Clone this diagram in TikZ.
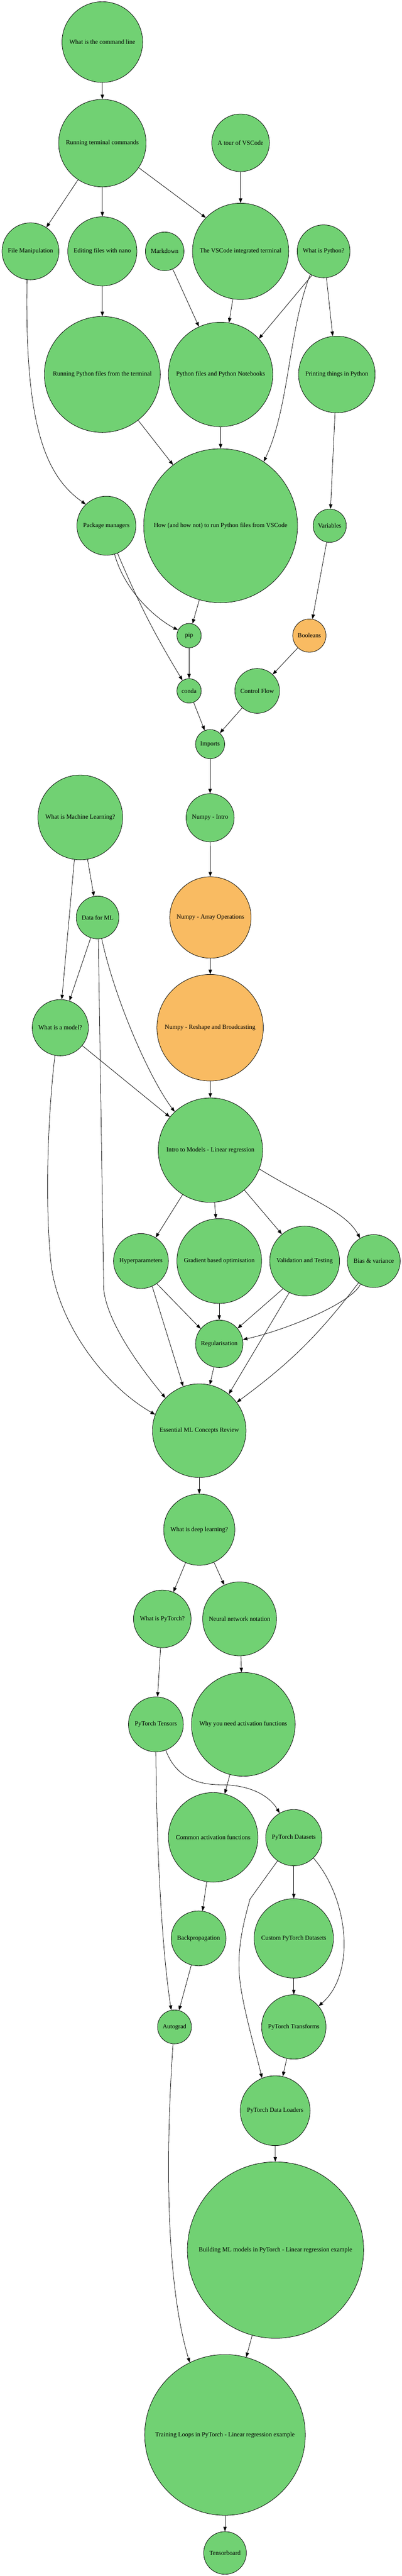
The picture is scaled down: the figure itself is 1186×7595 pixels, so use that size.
\documentclass[tikz,border=0pt]{standalone}
\usepackage{fontspec}
\setmainfont{Liberation Serif}
\usetikzlibrary{arrows.meta}
\definecolor{topicgreen}{RGB}{113,209,115}
\definecolor{topicorange}{RGB}{249,187,98}
\tikzset{
  topic/.style={circle,draw=black,line width=1.2pt,fill=topicgreen,inner sep=0pt,
    font=\fontsize{18.5pt}{22pt}\selectfont},
  hard/.style={topic,fill=topicorange},
  edge/.style={draw=black,line width=1.2pt,-{Triangle[length=13.5pt,width=10pt]}}
}
\begin{document}
\begin{tikzpicture}[x=1pt,y=1pt]
\useasboundingbox (0,0) rectangle (1186,-7595);
% ---- nodes ----
\node[topic,minimum size=238pt] (cmd) at (302,-124) {What is the command line};
\node[topic,minimum size=258pt] (run) at (302,-422) {Running terminal commands};
\node[topic,minimum size=170pt] (tour) at (710,-421) {A tour of VSCode};
\node[topic,minimum size=168pt] (fileman) at (90,-741) {File Manipulation};
\node[topic,minimum size=204pt] (nano) at (302,-741) {Editing files with nano};
\node[topic,minimum size=114pt] (md) at (486,-741) {Markdown};
\node[topic,minimum size=284pt] (vsterm) at (710,-741) {The VSCode integrated terminal};
\node[topic,minimum size=156pt] (whatpy) at (955,-741) {What is Python?};
\node[topic,minimum size=342pt] (runpy) at (302,-1104) {Running Python files from the terminal};
\node[topic,minimum size=308pt] (pyfiles) at (651,-1104) {Python files and Python Notebooks};
\node[topic,minimum size=226pt] (print) at (994,-1104) {Printing things in Python};
\node[topic,minimum size=174pt] (pkg) at (314,-1550) {Package managers};
\node[topic,minimum size=454pt] (howto) at (651,-1550) {How (and how not) to run Python files from VSCode};
\node[topic,minimum size=98pt] (vars) at (973,-1550) {Variables};
\node[topic,minimum size=72pt] (pip) at (558,-1874) {pip};
\node[hard,minimum size=98pt] (bool) at (913,-1874) {Booleans};
\node[topic,minimum size=72pt] (conda) at (558,-2037) {conda};
\node[topic,minimum size=132pt] (ctrl) at (759,-2037) {Control Flow};
\node[topic,minimum size=86pt] (imports) at (620,-2194) {Imports};
\node[topic,minimum size=142pt] (npintro) at (620,-2411) {Numpy - Intro};
\node[topic,minimum size=250pt] (whatml) at (237,-2410) {What is Machine Learning?};
\node[topic,minimum size=126pt] (data) at (288,-2705) {Data for ML};
\node[hard,minimum size=240pt] (nparr) at (621,-2705) {Numpy - Array Operations};
\node[topic,minimum size=166pt] (model) at (178,-3030) {What is a model?};
\node[hard,minimum size=314pt] (npresh) at (620,-3030) {Numpy - Reshape and Broadcasting};
\node[topic,minimum size=308pt] (intro) at (621,-3391) {Intro to Models - Linear regression};
\node[topic,minimum size=162pt] (hyper) at (416,-3718) {Hyperparameters};
\node[topic,minimum size=250pt] (grad) at (647,-3718) {Gradient based optimisation};
\node[topic,minimum size=206pt] (valid) at (899,-3718) {Validation and Testing};
\node[topic,minimum size=156pt] (bias) at (1103,-3718) {Bias \& variance};
\node[topic,minimum size=140pt] (reg) at (647,-3962) {Regularisation};
\node[topic,minimum size=276pt] (ess) at (588,-4218) {Essential ML Concepts Review};
\node[topic,minimum size=210pt] (dl) at (588,-4510) {What is deep learning?};
\node[topic,minimum size=170pt] (whatpt) at (479,-4773) {What is PyTorch?};
\node[topic,minimum size=218pt] (nn) at (707,-4773) {Neural network notation};
\node[topic,minimum size=162pt] (tensors) at (460,-5084) {PyTorch Tensors};
\node[topic,minimum size=306pt] (whyact) at (718,-5084) {Why you need activation functions};
\node[topic,minimum size=264pt] (common) at (629,-5417) {Common activation functions};
\node[topic,minimum size=166pt] (datasets) at (867,-5418) {PyTorch Datasets};
\node[topic,minimum size=162pt] (backprop) at (586,-5715) {Backpropagation};
\node[topic,minimum size=234pt] (custom) at (867,-5715) {Custom PyTorch Datasets};
\node[topic,minimum size=100pt] (autograd) at (515,-5976) {Autograd};
\node[topic,minimum size=190pt] (transforms) at (867,-5976) {PyTorch Transforms};
\node[topic,minimum size=206pt] (loaders) at (812,-6223) {PyTorch Data Loaders};
\node[topic,minimum size=520pt] (building) at (813,-6634) {Building ML models in PyTorch - Linear regression example};
\node[topic,minimum size=474pt] (training) at (664,-7179) {Training Loops in PyTorch - Linear regression example};
\node[topic,minimum size=126pt] (tb) at (664,-7527) {Tensorboard};
% ---- edges: command line / python ----
\draw[edge] (cmd) -- (run);
\draw[edge] (run) -- (fileman);
\draw[edge] (run) -- (nano);
\draw[edge] (run.-34) -- (vsterm.136);
\draw[edge] (tour) -- (vsterm);
\draw[edge] (fileman.-97) .. controls +(-7,-423) and +(-122,86) .. (pkg.134);
\draw[edge] (nano) -- (runpy);
\draw[edge] (md) -- (pyfiles);
\draw[edge] (vsterm) -- (pyfiles);
\draw[edge] (whatpy.-116) -- (pyfiles.43);
\draw[edge] (whatpy.-120) .. controls +(-65,-165) and +(76,161) .. (howto.56);
\draw[edge] (whatpy) -- (print);
\draw[edge] (runpy) -- (howto);
\draw[edge] (pyfiles) -- (howto);
\draw[edge] (print) -- (vars);
\draw[edge] (pkg.-74) .. controls +(32,-116) and +(-56,28) .. (pip.153);
\draw[edge] (pkg.-68) to[bend right=4] (conda.122);
\draw[edge] (howto) -- (pip);
\draw[edge] (vars) -- (bool);
\draw[edge] (pip) -- (conda);
\draw[edge] (bool) -- (ctrl);
\draw[edge] (conda) -- (imports);
\draw[edge] (ctrl) -- (imports);
\draw[edge] (imports) -- (npintro);
% ---- edges: numpy / ML ----
\draw[edge] (npintro) -- (nparr);
\draw[edge] (nparr) -- (npresh);
\draw[edge] (whatml.-98) -- (model.87);
\draw[edge] (whatml) -- (data);
\draw[edge] (data) -- (model);
\draw[edge] (data.-88) -- (306,-3800) .. controls (315,-3900) and (420,-4040) .. (ess.136);
\draw[edge] (data.-79) .. controls +(39,-181) and +(-74,98) .. (intro.133);
\draw[edge] (model) -- (intro);
\draw[edge] (model.-101) .. controls (140,-3300) and (133,-3550) .. (150,-3720) .. controls (167,-3890) and (300,-4080) .. (ess.160);
\draw[edge] (npresh) -- (intro);
\draw[edge] (intro) -- (hyper);
\draw[edge] (intro) -- (grad);
\draw[edge] (intro) -- (valid);
\draw[edge] (intro.-21) .. controls +(135,-84) and +(-43,81) .. (bias.121);
\draw[edge] (hyper.-55) -- (reg.141);
\draw[edge] (hyper.-66) -- (ess.110);
\draw[edge] (grad) -- (reg);
\draw[edge] (valid.-128) -- (reg.40);
\draw[edge] (valid.-116) -- (ess.51);
\draw[edge] (bias.-120) .. controls +(-24,-54) and +(134,30) .. (reg.10);
\draw[edge] (bias.-125) to[bend left=8] (ess.37);
\draw[edge] (reg) -- (ess);
\draw[edge] (ess) -- (dl);
% ---- edges: deep learning / pytorch ----
\draw[edge] (dl) -- (whatpt);
\draw[edge] (dl) -- (nn);
\draw[edge] (whatpt) -- (tensors);
\draw[edge] (nn) -- (whyact);
\draw[edge] (whyact) -- (common);
\draw[edge] (tensors.-69) .. controls (515,-5230) and (570,-5262) .. (650,-5262) .. controls (740,-5262) and (795,-5295) .. (datasets.120);
\draw[edge] (tensors.-90) .. controls (462,-5450) and (478,-5750) .. (autograd.101);
\draw[edge] (common) -- (backprop);
\draw[edge] (backprop) -- (autograd);
\draw[edge] (datasets) -- (custom);
\draw[edge] (custom) -- (transforms);
\draw[edge] (datasets.-46) .. controls +(105,-122) and +(110,95) .. (transforms.40);
\draw[edge] (datasets.-125) -- (738,-5599) .. controls (715,-5680) and (700,-5750) .. (707,-5830) .. controls (714,-5910) and (755,-6050) .. (loaders.112);
\draw[edge] (transforms) -- (loaders);
\draw[edge] (loaders) -- (building);
\draw[edge] (autograd.-95) .. controls (485,-6400) and (495,-6750) .. (training.116);
\draw[edge] (building) -- (training);
\draw[edge] (training) -- (tb);
\end{tikzpicture}
\end{document}
